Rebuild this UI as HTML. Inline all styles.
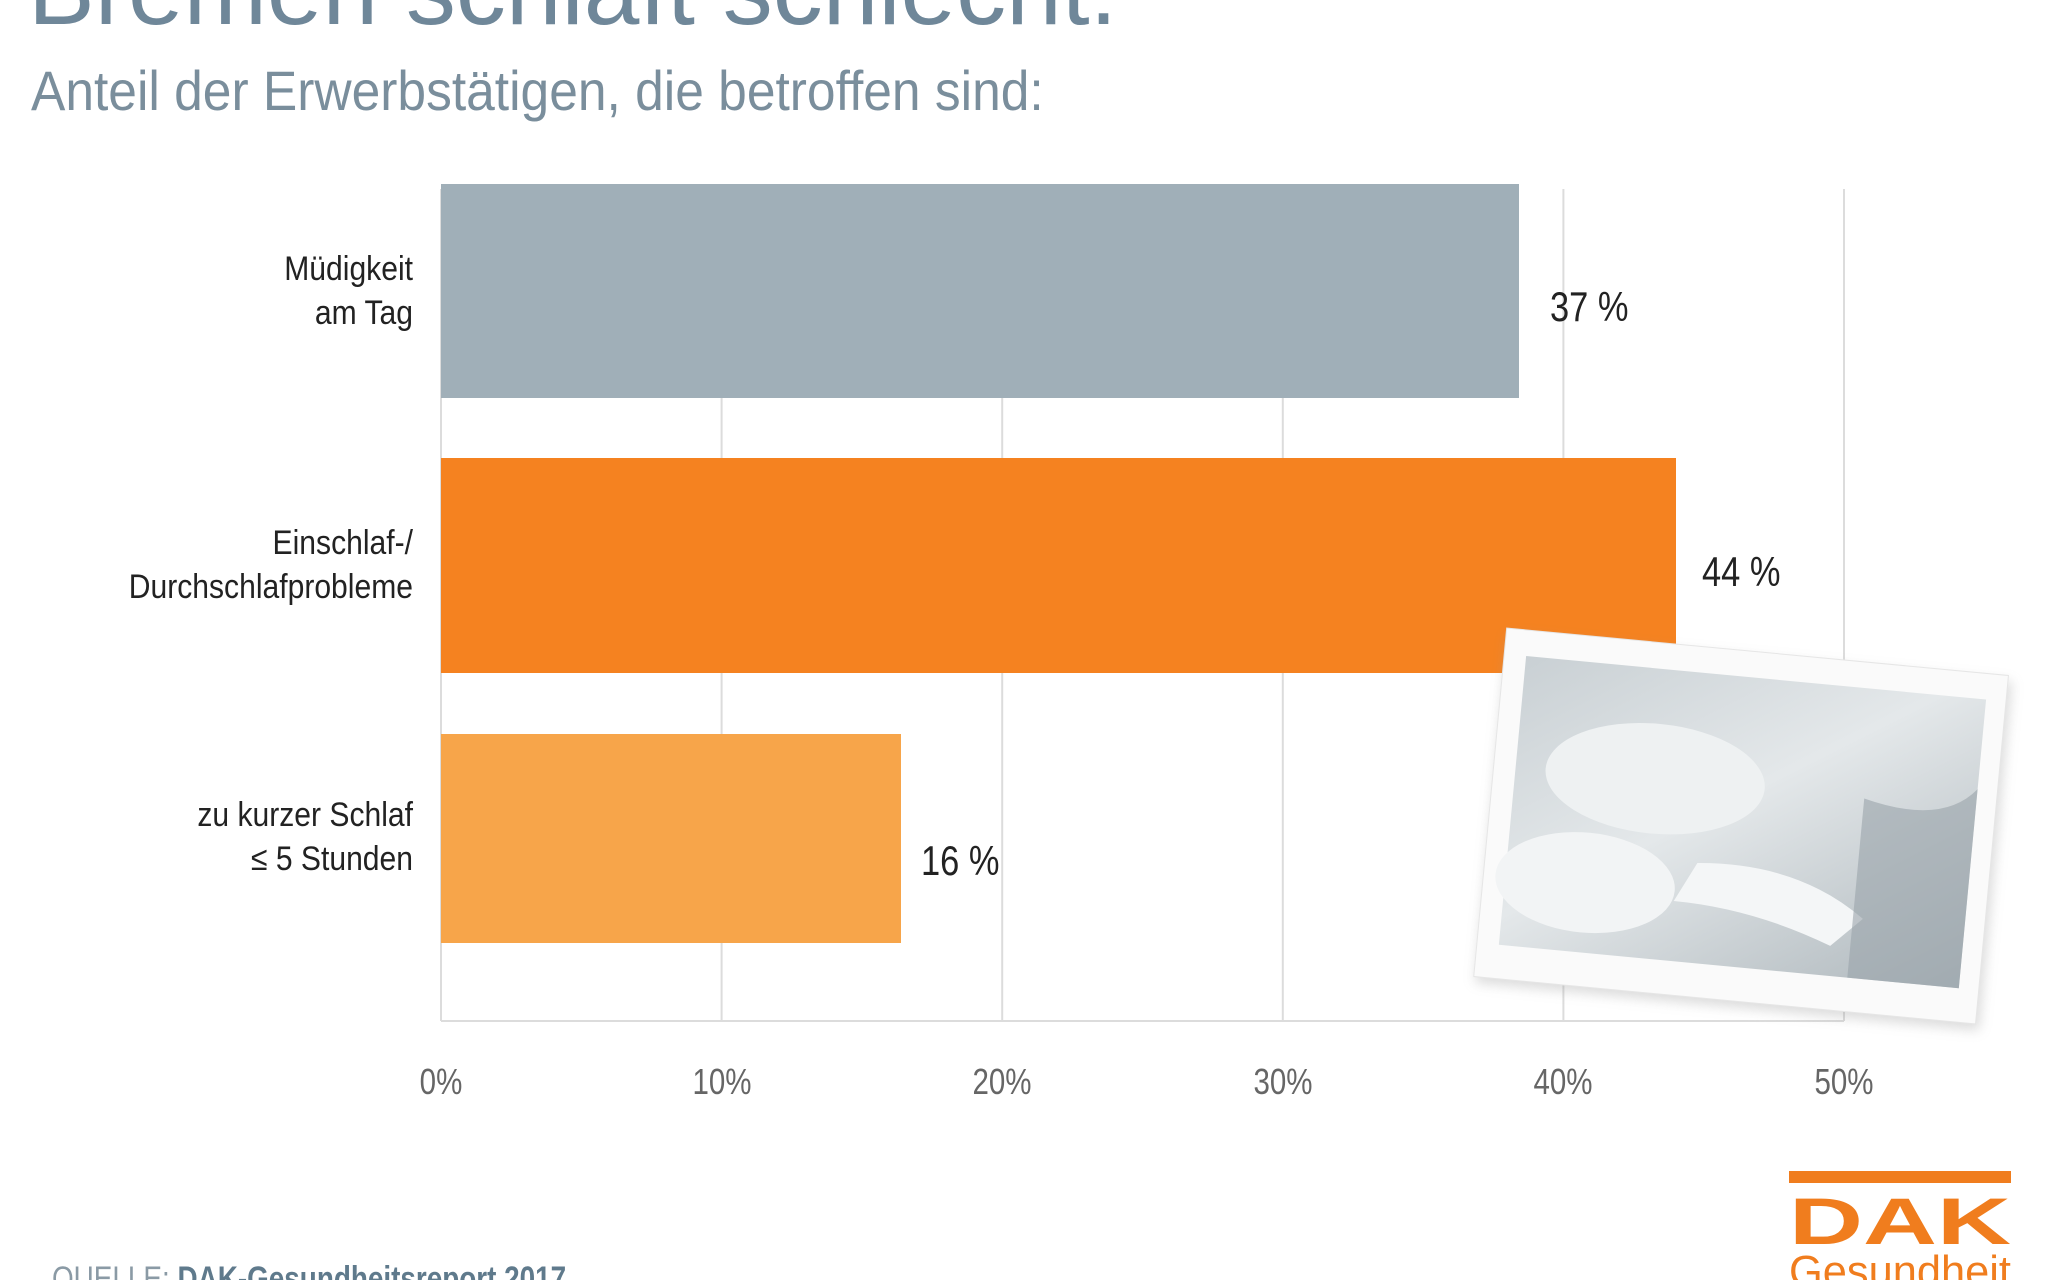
<!DOCTYPE html>
<html><head><meta charset="utf-8"><style>
html,body{margin:0;padding:0;background:#fff;}
svg{display:block;}
</style></head><body>
<svg width="2048" height="1280" viewBox="0 0 2048 1280" xmlns="http://www.w3.org/2000/svg" font-family="Liberation Sans, sans-serif">
<rect width="2048" height="1280" fill="#fff"/>
<text x="28" y="24" font-size="100" fill="#6f8799">Bremen schläft schlecht.</text>
<text x="31" y="110" font-size="56" fill="#7a8e9c" transform="translate(31 0) scale(0.92 1) translate(-31 0)">Anteil der Erwerbstätigen, die betroffen sind:</text>
<g stroke="#dcdcdc" stroke-width="2">
<line x1="441" y1="189" x2="441" y2="1021"/>
<line x1="721.6" y1="189" x2="721.6" y2="1021"/>
<line x1="1002.2" y1="189" x2="1002.2" y2="1021"/>
<line x1="1282.8" y1="189" x2="1282.8" y2="1021"/>
<line x1="1563.4" y1="189" x2="1563.4" y2="1021"/>
<line x1="1844" y1="189" x2="1844" y2="1021"/>
<line x1="441" y1="1021" x2="1844" y2="1021"/>
</g>
<rect x="441" y="184" width="1078" height="214" fill="#a0afb8"/>
<rect x="441" y="458" width="1235" height="215" fill="#f58220"/>
<rect x="441" y="734" width="460" height="209" fill="#f7a54a"/>
<g font-size="42" fill="#222">
<text x="1550" y="321" transform="translate(1550 0) scale(0.82 1) translate(-1550 0)">37 %</text>
<text x="1702" y="586" transform="translate(1702 0) scale(0.82 1) translate(-1702 0)">44 %</text>
<text x="921" y="875" transform="translate(921 0) scale(0.82 1) translate(-921 0)">16 %</text>
</g>
<g font-size="34" fill="#222" text-anchor="end" transform="translate(413 0) scale(0.885 1) translate(-413 0)">
<text x="413" y="280">Müdigkeit</text>
<text x="413" y="324">am Tag</text>
<text x="413" y="554">Einschlaf-/</text>
<text x="413" y="598">Durchschlafprobleme</text>
<text x="413" y="826">zu kurzer Schlaf</text>
<text x="413" y="870">≤ 5 Stunden</text>
</g>
<g font-size="36" fill="#666" text-anchor="middle">
<text x="441" y="1094" transform="translate(441 0) scale(0.82 1) translate(-441 0)">0%</text>
<text x="722" y="1094" transform="translate(722 0) scale(0.82 1) translate(-722 0)">10%</text>
<text x="1002" y="1094" transform="translate(1002 0) scale(0.82 1) translate(-1002 0)">20%</text>
<text x="1283" y="1094" transform="translate(1283 0) scale(0.82 1) translate(-1283 0)">30%</text>
<text x="1563" y="1094" transform="translate(1563 0) scale(0.82 1) translate(-1563 0)">40%</text>
<text x="1844" y="1094" transform="translate(1844 0) scale(0.82 1) translate(-1844 0)">50%</text>
</g>
<defs>
<filter id="sh" x="-10%" y="-10%" width="120%" height="120%"><feGaussianBlur stdDeviation="6"/></filter>
<linearGradient id="pg" x1="0" y1="0" x2="1" y2="1">
<stop offset="0" stop-color="#c9d0d4"/><stop offset="0.45" stop-color="#e4e8ea"/><stop offset="1" stop-color="#aeb7bc"/>
</linearGradient>
</defs>
<g transform="translate(1741 827) rotate(5.4)">
<rect x="-250" y="-170" width="506" height="350" fill="#999" opacity="0.35" filter="url(#sh)"/>
<rect x="-252" y="-176" width="504" height="350" fill="#fafafa" stroke="#e6e6e6"/>
<rect x="-230" y="-150" width="462" height="290" fill="url(#pg)"/>
<ellipse cx="-90" cy="-40" rx="110" ry="55" fill="#eef1f2"/>
<ellipse cx="-150" cy="70" rx="90" ry="50" fill="#f2f4f5"/>
<path d="M-40 40 Q60 30 130 80 L100 110 Q20 80 -60 80Z" fill="#f4f6f7"/>
<path d="M120 -40 Q200 -20 232 -60 L232 140 L120 140Z" fill="#9aa4aa" opacity="0.6"/>
</g>
<rect x="1789" y="1171" width="222" height="12" fill="#f07d1e"/>
<text x="1789" y="1244" font-size="66" font-weight="bold" fill="#f07d1e" textLength="222" lengthAdjust="spacingAndGlyphs">DAK</text>
<text x="1789" y="1286" font-size="44" fill="#f07d1e" textLength="222" lengthAdjust="spacingAndGlyphs">Gesundheit</text>
<text x="52" y="1290" font-size="34" fill="#8a9aa5" transform="translate(52 0) scale(0.82 1) translate(-52 0)">QUELLE: <tspan font-weight="bold" fill="#5f7a8c">DAK-Gesundheitsreport 2017</tspan></text>
</svg>
</body></html>
